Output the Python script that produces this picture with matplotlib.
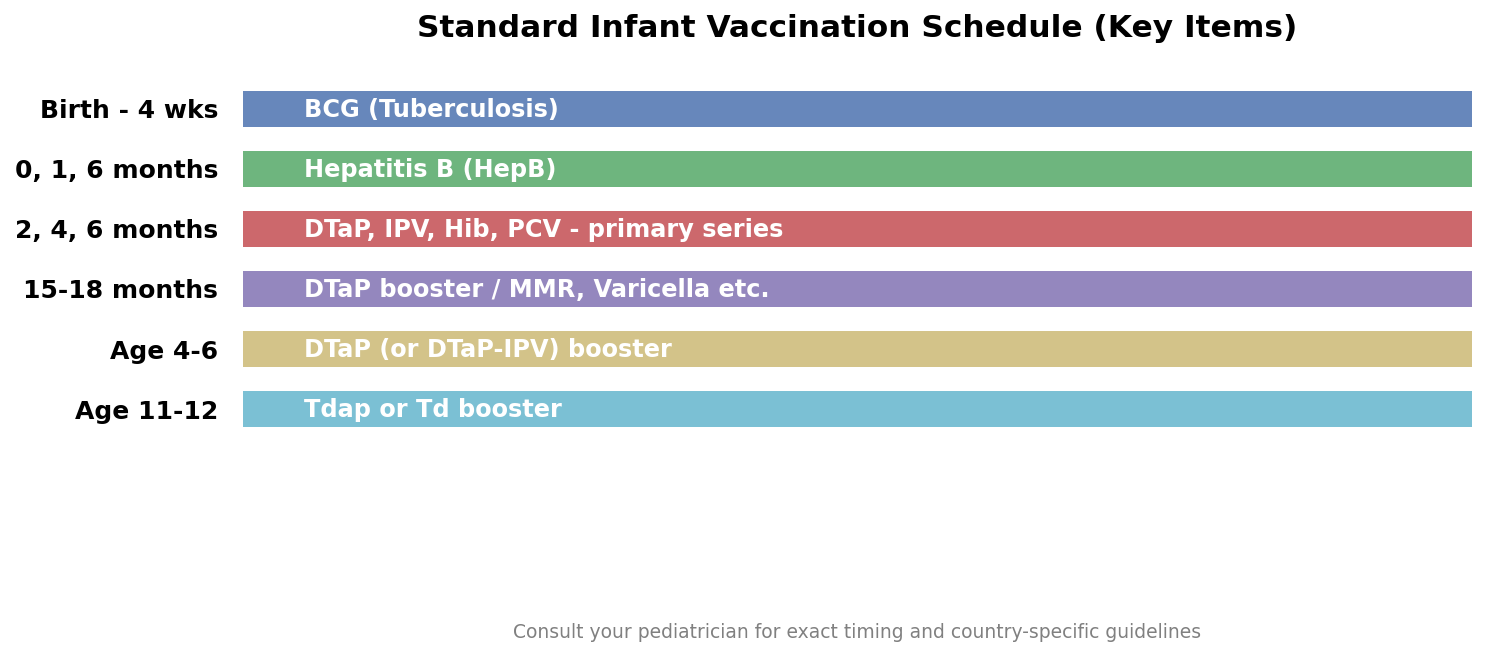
import matplotlib.pyplot as plt
import seaborn as sns

# Schedule (top to bottom)
ages = ["Birth - 4 wks", "0, 1, 6 months", "2, 4, 6 months",
        "15-18 months", "Age 4-6", "Age 11-12"]
vaccines = ["BCG (Tuberculosis)", "Hepatitis B (HepB)",
            "DTaP, IPV, Hib, PCV - primary series",
            "DTaP booster / MMR, Varicella etc.",
            "DTaP (or DTaP-IPV) booster", "Tdap or Td booster"]
spans = [1, 1, 1, 1, 1, 1]

colors = sns.color_palette("deep6")

fig = plt.figure(figsize=(14.87, 6.57), dpi=100)
ax = fig.add_axes([243 / 1487, 1 - 559 / 657, 1229 / 1487, 486 / 657])

y = list(range(len(ages)))
ax.barh(y, spans, height=0.6, color=colors, alpha=0.85)
for yi, txt in zip(y, vaccines):
    ax.text(0.05, yi + 0.015, txt, color="white", fontsize=17.3, fontweight="bold",
            va="center", ha="left")

ax.set_xlim(0, 1)
ax.set_ylim(7.5, -0.6)
ax.set_yticks(y)
ax.set_yticklabels(ages, fontsize=18, fontweight="bold")
ax.tick_params(axis="y", length=0, pad=18)
ax.set_xticks([])
for s in ax.spines.values():
    s.set_visible(False)

ax.set_title("Standard Infant Vaccination Schedule (Key Items)",
             fontsize=22.5, fontweight="bold", pad=26)
fig.text(857.5 / 1487, 1 - 632 / 657,
         "Consult your pediatrician for exact timing and country-specific guidelines",
         ha="center", va="center", fontsize=13.5, color="gray")

fig.savefig("out.png", dpi=100)
